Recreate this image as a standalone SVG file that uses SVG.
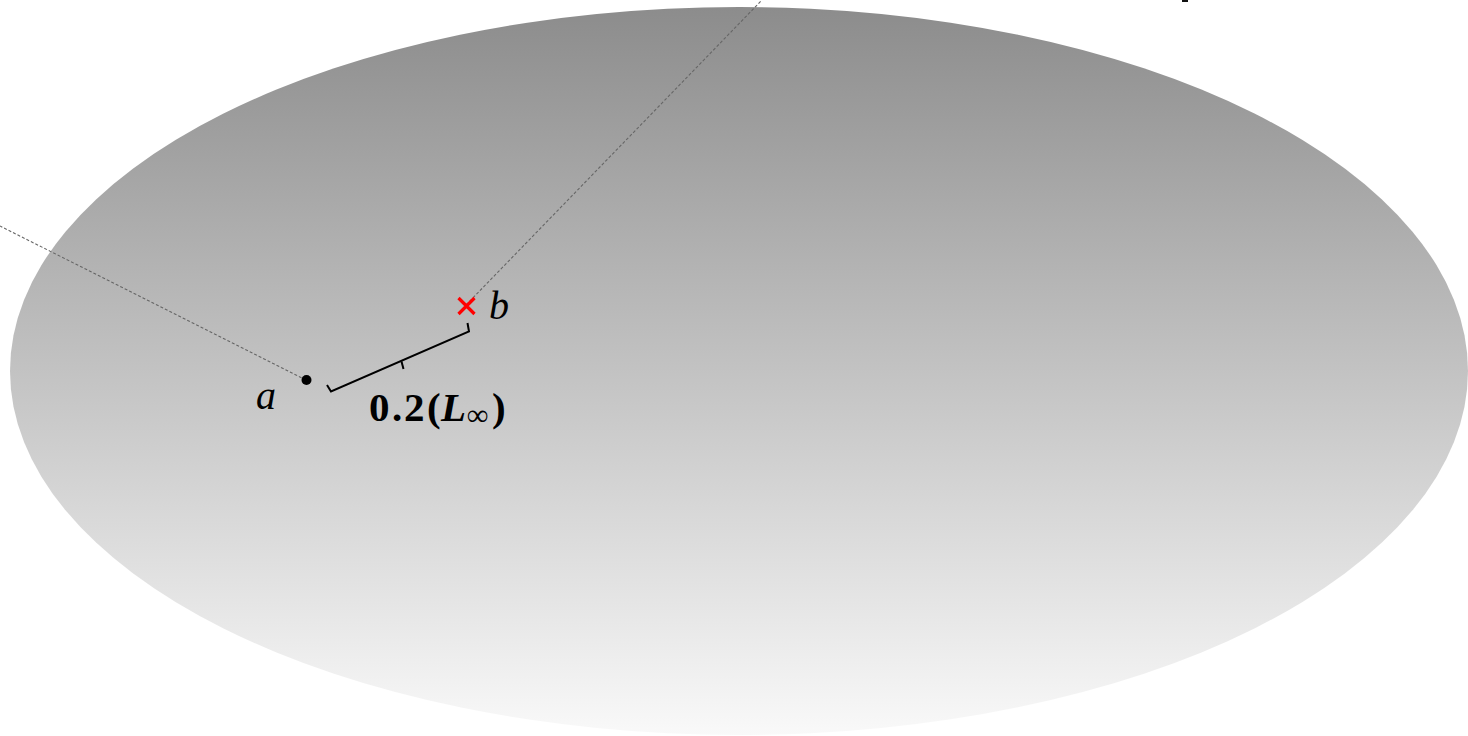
<svg xmlns="http://www.w3.org/2000/svg" width="1468" height="736" viewBox="0 0 1468 736">
<defs>
<linearGradient id="g" x1="0" y1="0" x2="0" y2="1">
<stop offset="0" stop-color="#8c8c8c"/>
<stop offset="1" stop-color="#f9f9f9"/>
</linearGradient>
</defs>
<style>
.dash{stroke:#666;stroke-width:1.1;stroke-dasharray:3 2;fill:none}
.lbl{font-family:"Liberation Serif",serif;font-style:italic;font-size:40px;fill:#000}
.dim{font-family:"Liberation Serif",serif;font-weight:bold;font-size:41px;fill:#000}
</style>
<rect width="1468" height="736" fill="#fff"/>
<ellipse id="region" cx="739" cy="371" rx="729" ry="364" fill="url(#g)"/>
<g id="connectors">
<line class="dash" x1="306" y1="380" x2="0" y2="226"/>
<line class="dash" x1="466" y1="305" x2="762" y2="0"/>
<path d="M327,385 L331,391.5 L469,331.5 L467.5,323" fill="none" stroke="#000" stroke-width="2"/>
<line x1="401.5" y1="361.5" x2="403.5" y2="369" stroke="#000" stroke-width="2"/>
</g>
<g id="node-a">
<circle cx="306.5" cy="380" r="5" fill="#000"/>
<text class="lbl" x="256" y="409">a</text>
</g>
<g id="node-b">
<path d="M458.5,298 L474.5,314 M474.5,298 L458.5,314" stroke="#ff0000" stroke-width="3.2"/>
<text class="lbl" x="489" y="319">b</text>
</g>
<g id="label-dist">
<text class="dim" y="421"><tspan x="369">0</tspan><tspan x="392">.</tspan><tspan x="404">2</tspan><tspan x="427">(</tspan><tspan x="441" font-style="italic">L</tspan><tspan x="467" font-size="30" dy="4">∞</tspan><tspan x="492" dy="-4">)</tspan></text>
</g>
<rect x="1182" y="0" width="6" height="2" fill="#111"/>
</svg>
